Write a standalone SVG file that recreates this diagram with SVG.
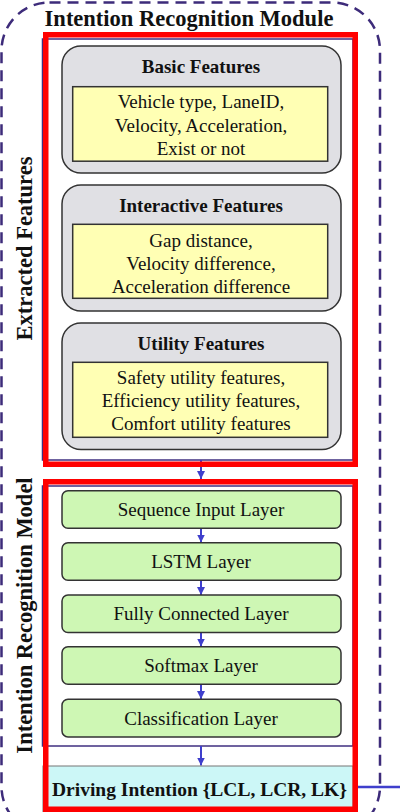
<svg xmlns="http://www.w3.org/2000/svg" width="400" height="812" viewBox="0 0 400 812">
<style>
.t{font-family:"Liberation Serif","Times New Roman",serif;fill:#111;text-anchor:middle}
.b{font-weight:bold}
.lbl{font-size:22.5px;font-weight:bold}
.ft{font-size:19px}
.grey{fill:#e0e0e4;stroke:#333;stroke-width:1.5}
.yel{fill:#ffffb4;stroke:#333;stroke-width:1.5}
.grn{fill:#cef7b4;stroke:#333;stroke-width:1.5}
.red{fill:none;stroke:#ff0000;stroke-width:5.5}
.pur{fill:none;stroke:#3f2f80;stroke-width:1.5}
.arr{stroke:#3f3fcc;stroke-width:2;fill:none}
</style>
<defs>
<marker id="ah" markerWidth="9" markerHeight="8" refX="8" refY="4" orient="auto" markerUnits="userSpaceOnUse">
<path d="M0,0 L8,4 L0,8 z" fill="#3f3fcc"/>
</marker>
</defs>
<rect width="400" height="812" fill="#fff"/>
<g id="module">
<rect x="1.5" y="2.5" width="378.5" height="832" rx="48" fill="none" stroke="#3d2b7a" stroke-width="2.5" stroke-dasharray="11 7"/>
<text class="t lbl" x="189" y="26">Intention Recognition Module</text>
</g>
<g id="frames">
<rect class="pur" x="42.5" y="39" width="310.5" height="421"/>
<rect class="pur" x="42.5" y="486" width="310.5" height="260"/>
<text class="t lbl" transform="translate(32,248.5) rotate(-90)">Extracted Features</text>
<text class="t lbl" transform="translate(32,615.5) rotate(-90)">Intention Recognition Model</text>
</g>
<g id="connectors">
<line class="arr" x1="201" y1="460" x2="201" y2="479" marker-end="url(#ah)"/>
<line class="arr" x1="201" y1="528.5" x2="201" y2="542.5" marker-end="url(#ah)"/>
<line class="arr" x1="201" y1="580.5" x2="201" y2="595" marker-end="url(#ah)"/>
<line class="arr" x1="201" y1="632.5" x2="201" y2="646.5" marker-end="url(#ah)"/>
<line class="arr" x1="201" y1="684.5" x2="201" y2="699" marker-end="url(#ah)"/>
<line class="arr" x1="201" y1="746" x2="201" y2="765.5" marker-end="url(#ah)"/>
<line x1="353" y1="787" x2="400" y2="787" stroke="#3f3fcc" stroke-width="2.5"/>
</g>
<g id="basic">
<rect class="grey" x="62" y="46" width="279" height="127" rx="19"/>
<text class="t b ft" x="201" y="73">Basic Features</text>
<rect class="yel" x="72.7" y="86.7" width="255" height="74.5"/>
<text class="t ft" x="201" y="108">Vehicle type, LaneID,</text>
<text class="t ft" x="201" y="131.5">Velocity, Acceleration,</text>
<text class="t ft" x="201" y="155">Exist or not</text>
</g>
<g id="interactive">
<rect class="grey" x="62" y="185" width="279" height="126" rx="19"/>
<text class="t b ft" x="201" y="211.5">Interactive Features</text>
<rect class="yel" x="72.7" y="224.3" width="255" height="74"/>
<text class="t ft" x="201" y="246.5">Gap distance,</text>
<text class="t ft" x="201" y="270">Velocity difference,</text>
<text class="t ft" x="201" y="292.5">Acceleration difference</text>
</g>
<g id="utility">
<rect class="grey" x="62" y="323" width="279" height="126.5" rx="19"/>
<text class="t b ft" x="201" y="349.5">Utility Features</text>
<rect class="yel" x="72.7" y="362.3" width="255" height="75"/>
<text class="t ft" x="201" y="383.5">Safety utility features,</text>
<text class="t ft" x="201" y="407">Efficiency utility features,</text>
<text class="t ft" x="201" y="430">Comfort utility features</text>
</g>
<g id="seq">
<rect class="grn" x="62" y="490.7" width="279" height="37.6" rx="6"/>
<text class="t ft" x="201" y="516">Sequence Input Layer</text>
</g>
<g id="lstm">
<rect class="grn" x="62" y="542.7" width="279" height="37.6" rx="6"/>
<text class="t ft" x="201" y="568">LSTM Layer</text>
</g>
<g id="fc">
<rect class="grn" x="62" y="595" width="279" height="37.6" rx="6"/>
<text class="t ft" x="201" y="620.3">Fully Connected Layer</text>
</g>
<g id="softmax">
<rect class="grn" x="62" y="646.7" width="279" height="37.6" rx="6"/>
<text class="t ft" x="201" y="672">Softmax Layer</text>
</g>
<g id="classification">
<rect class="grn" x="62" y="699.3" width="279" height="37.6" rx="6"/>
<text class="t ft" x="201" y="724.6">Classification Layer</text>
</g>
<g id="output">
<rect x="43" y="766" width="310" height="50" fill="#ccf7f7" stroke="#777" stroke-width="1"/>
<text class="t b" x="199.5" y="796" font-size="19.5">Driving Intention {LCL, LCR, LK}</text>
</g>
<g id="highlights">
<rect class="red" x="45.75" y="34.75" width="309.5" height="429.5"/>
<rect class="red" x="45.75" y="481.75" width="309.5" height="327.5"/>
</g>
</svg>
